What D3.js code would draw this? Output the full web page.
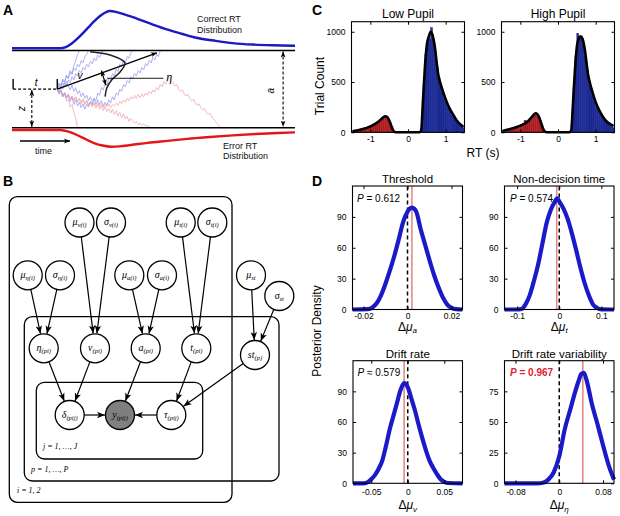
<!DOCTYPE html>
<html><head><meta charset="utf-8">
<script src="https://cdn.jsdelivr.net/npm/d3@7"></script>
<style>body{margin:0;background:#fff}svg{display:block}</style>
</head><body>
<svg id="c" width="620" height="516"></svg>
<script>
// ================= DATA =================
// Panel A : diffusion schematic (time in ms, evidence in % of boundary a)
const startTime = 160, startEvidence = 50, traceStep = 6.5;
const correctDistTime = [0,170,190,210,230,250,270,290,310,330,346,370,400,450,500,550,600,660,720,780,850,920,1000];
const correctDistDens = [0,0,0.03,0.12,0.25,0.4,0.56,0.72,0.86,0.96,1,0.97,0.9,0.77,0.63,0.5,0.39,0.27,0.2,0.14,0.1,0.08,0.07];
const errorDistTime = [0,170,200,230,260,290,320,350,380,420,480,550,620,700,780,860,940,1000];
const errorDistDens = [0,0,0.1,0.3,0.55,0.78,0.93,1,0.98,0.9,0.77,0.65,0.53,0.42,0.32,0.24,0.18,0.14];
const blueTraces = [
 [50,57,53,62,58,67,64,74,70,80,87,95,100],
 [50,58,55,63,60,68,64,72,69,77,74,82,79,87,84,92,95,100],
 [50,46,54,50,58,55,62,58,66,62,70,67,74,71,78,75,82,79,86,83,90,87,94,91,97,100],
 [50,44,48,40,45,38,42,34,39,30,36,28,33,26,31,24,30,27,34,30,38,35,45,42,52,49,58,55,64,62,70,67,76,73,82,79,87,84,92,90,97,100],
 [50,55,50,58,53,60,54,49,55,47,52,44,48,40,45,38,42,35,40,34,38,31,36,30,35,28,33,29,36,32,40,36,45,42,50,47,56,53,61,58,66,63,70,67,74,71,78,75,83,80,87,84,91,88,95,92,100]
];
const redTraces = [
 [50,45,48,40,43,34,37,27,30,20,12,0],
 [50,45,49,42,46,40,44,37,41,35,39,33,37,31,36,30,34,28,33,27,31,25,30,24,28,22,27,21,25,19,24,17,22,15,20,13,18,11,15,8,12,9,6,8,4,6,3,5,2,3,1,0],
 [50,44,47,41,45,39,43,37,41,36,40,34,38,33,37,32,36,30,34,29,33,28,32,27,31,26,30,27,31,26,30,28,32,29,34,31,36,33,38,35,40,37,42,38,43,39,44,40,45,42,47,44,49,46,52,49,56,53,60,57,63,65,61,58,54,56,50,47,49,44,41,43,38,35,37,32,29,31,26,23,25,20,17,19,14,11,8,5,2,0]
];
const driftEnd = [512, 97];
const bellTime = [276,346,399,382,352,335,329];
const bellEvid = [98.4,94.2,83.8,72.2,61.8,51.4,40.2];

// Panel B : hierarchical model
const nodeNames = ["muV","sgV","muT","sgT","muE","sgE","muA","sgA","muS","sgS","eta","v","a","t","st","del","y","tau"];
const nodeBase  = ["μ","σ","μ","σ","μ","σ","μ","σ","μ","σ","η","v","a","t","st","δ","y","τ"];
const nodeSub   = ["v(i)","v(i)","t(i)","t(i)","η(i)","η(i)","a(i)","a(i)","st","st","(pi)","(pi)","(pi)","(pi)","(p)","(pij)","(pij)","(pij)"];
const nodeCol   = [79.5,111,180.7,212.3,27.7,60,129.3,162,251,279.3,43.7,95,145.7,196.3,255,69.7,120,171.3];
const nodeRow   = [52.5,52.5,52.5,52.5,105.3,105.3,105.3,105.3,105.3,126,178.3,178.3,178.3,178.3,185,245,245,245];
const nodeObserved = ["y"];
const edges = [["muE","eta"],["sgE","eta"],["muV","v"],["sgV","v"],["muA","a"],["sgA","a"],["muT","t"],["sgT","t"],["muS","st"],["sgS","st"],["eta","del"],["v","del"],["a","y"],["t","tau"],["st","tau"],["del","y"],["tau","y"]];
const plateLabels = ["i = 1, 2","p = 1, …, P","j = 1, …, J"];

// Panel C : RT histograms (s, trial counts)
const errCenters = [-1.425,-1.375,-1.325,-1.275,-1.225,-1.175,-1.125,-1.075,-1.025,-0.975,-0.925,-0.875,-0.825,-0.775,-0.725,-0.675,-0.625,-0.575,-0.525,-0.475,-0.425,-0.375];
const corCenters = [0.325,0.375,0.425,0.475,0.525,0.575,0.625,0.675,0.725,0.775,0.825,0.875,0.925,0.975,1.025,1.075,1.125,1.175,1.225,1.275,1.325,1.375,1.425,1.475];
const lowErr  = [15,20,24,28,32,37,42,48,55,62,72,84,97,110,126,142,155,158,138,100,55,15];
const lowCor  = [5,150,480,780,900,930,1040,920,780,650,540,470,400,340,285,240,205,170,145,120,100,85,70,45];
const highErr = [18,25,30,35,40,46,52,60,66,75,85,120,100,118,140,160,172,165,150,115,65,20];
const highCor = [5,120,450,760,980,940,930,880,760,620,510,440,360,300,250,215,180,150,125,110,95,80,70,45];
const fitRT   = [-1.45,-1.3,-1.2,-1.1,-1.0,-0.9,-0.8,-0.7,-0.65,-0.6,-0.55,-0.5,-0.45,-0.4,-0.35,-0.3,0.3,0.35,0.4,0.45,0.5,0.55,0.6,0.65,0.7,0.8,0.9,1.0,1.1,1.2,1.3,1.4,1.45];
const lowFit  = [12,22,32,44,58,78,102,135,152,160,150,120,70,25,3,0,0,20,330,650,870,950,1000,970,880,580,440,330,240,175,115,75,62];
const highFit = [15,30,40,52,66,85,110,150,172,189,180,150,95,40,8,0,0,20,300,620,850,930,955,930,850,570,420,300,215,150,105,78,68];
const rtTicks = [-1,0,1], rtTickLabels = ["-1","0","1"];
const countTicks = [0,500,1000], countTickLabels = ["0","500","1000"];

// Panel D : posterior densities
const threshX = [-0.025,-0.018,-0.016,-0.014,-0.012,-0.010,-0.008,-0.006,-0.004,-0.002,0,0.001,0.002,0.003,0.004,0.006,0.008,0.010,0.012,0.014,0.016,0.018,0.020,0.022,0.025];
const threshY = [0,0.3,2,6,14,25,38,52,68,85,95,98,99,98,95,78,63,48,34,22,12,5,1.5,0.3,0];
const ndtX = [-0.13,-0.1,-0.09,-0.08,-0.07,-0.06,-0.05,-0.04,-0.03,-0.02,-0.01,-0.005,0,0.01,0.02,0.03,0.04,0.05,0.06,0.07,0.08,0.09,0.1,0.13];
const ndtY = [0,0,0.5,5,14,28,44,64,84,97,105,108,105,98,88,74,58,41,26,14,5,1.5,0.2,0];
const driftX = [-0.075,-0.06,-0.055,-0.05,-0.045,-0.04,-0.035,-0.03,-0.025,-0.02,-0.015,-0.01,-0.005,0,0.005,0.01,0.015,0.02,0.025,0.03,0.035,0.04,0.045,0.05,0.055,0.075];
const driftY = [0,0,1,4,8,14,22,36,52,65,78,91,98,94,83,71,57,44,32,22,15,9,4,1.5,0.3,0];
const varX = [-0.1,-0.04,-0.03,-0.02,-0.01,0,0.01,0.02,0.03,0.035,0.04,0.045,0.05,0.06,0.07,0.08,0.09,0.1];
const varY = [0,0,0.5,3,9,22,44,60,76,83,89,90,84,64,48,31,15,3];
const dTitles = ["Threshold","Non-decision time","Drift rate","Drift rate variability"];
const dSubs = ["a","t","v","η"];
const dP = ["0.612","0.574","0.579","0.967"];
const dPRel = ["=","=","≈","="];
const dMeans = [0.002,-0.006,-0.005,0.043];
const dXDomain = [[-0.025,0.025],[-0.13,0.13],[-0.075,0.075],[-0.1,0.1]];
const dYMax = [120,120,120,100];
const dXTicks = [[-0.02,0,0.02],[-0.1,0,0.1],[-0.05,0,0.05],[-0.08,0,0.08]];
const dXTickLabels = [["-0.02","0","0.02"],["-0.1","0","0.1"],["-0.05","0","0.05"],["-0.08","0","0.08"]];
const dYTicks = [[0,30,60,90],[0,30,60,90],[0,30,60,90],[0,25,50,75]];

// ================= DRAW =================
const SANS = 'Arial, "Liberation Sans", sans-serif';
const SERIF = '"Liberation Serif", "DejaVu Serif", serif';
const svg = d3.select("#c");
const defs = svg.append("defs");
function mk(id, len){
  defs.append("marker").attr("id",id).attr("viewBox","0 -5 10 10").attr("refX",10).attr("refY",0)
    .attr("markerWidth",len).attr("markerHeight",len).attr("markerUnits","userSpaceOnUse")
    .attr("orient","auto-start-reverse").append("path").attr("d","M0,-4L10,0L0,4L2.5,0Z").attr("fill","#000");
}
mk("arrB",8); mk("arrA",6);

function letter(x,y,t){ svg.append("text").attr("x",x).attr("y",y).attr("font-family",SANS).attr("font-weight","bold").attr("font-size",14).text(t); }
letter(3,15,"A"); letter(3,186,"B"); letter(312,15,"C"); letter(312,186,"D");

// ---------- Panel A ----------
const gA = svg.append("g");
const xA = d3.scaleLinear().domain([0,1000]).range([12,295]);
const yA = d3.scaleLinear().domain([0,100]).range([127.7,50.5]);
const yCorr = d3.scaleLinear().domain([0,1]).range([48.3,11]);
const yErr = d3.scaleLinear().domain([0,1]).range([130,146.7]);
const lineA = d3.line().curve(d3.curveLinear);
function traceLine(tr){ return tr.map((e,i)=>[xA(startTime+i*traceStep), yA(e)]); }
redTraces.forEach(tr=>gA.append("path").attr("d",lineA(traceLine(tr))).attr("fill","none").attr("stroke","#f2a6ae").attr("stroke-width",0.8));
blueTraces.forEach(tr=>gA.append("path").attr("d",lineA(traceLine(tr))).attr("fill","none").attr("stroke","#9c9cee").attr("stroke-width",0.8));
// boundaries
[0,100].forEach(b=>gA.append("line").attr("x1",xA(0)).attr("x2",xA(1000)).attr("y1",yA(b)).attr("y2",yA(b)).attr("stroke","#000").attr("stroke-width",1.6));
// RT distributions
const smooth = d3.line().curve(d3.curveMonotoneX);
gA.append("path").attr("d",smooth(correctDistTime.map((t,i)=>[xA(t),yCorr(correctDistDens[i])]))).attr("fill","none").attr("stroke","#1b1bbf").attr("stroke-width",2.4);
gA.append("path").attr("d",smooth(errorDistTime.map((t,i)=>[xA(t),yErr(errorDistDens[i])]))).attr("fill","none").attr("stroke","#e3161c").attr("stroke-width",2.4);
// start point / t
const sx = xA(startTime), sy = yA(startEvidence);
gA.append("line").attr("x1",xA(4)).attr("x2",sx).attr("y1",sy).attr("y2",sy).attr("stroke","#000").attr("stroke-width",1.2).attr("stroke-dasharray","3,2");
gA.append("line").attr("x1",xA(4)).attr("x2",xA(4)).attr("y1",sy-10).attr("y2",sy).attr("stroke","#000").attr("stroke-width",1.4);
gA.append("line").attr("x1",sx).attr("x2",sx).attr("y1",sy-10).attr("y2",sy).attr("stroke","#000").attr("stroke-width",1.4);
gA.append("text").attr("x",xA(85)).attr("y",sy-3).attr("font-family",SANS).attr("font-style","italic").attr("font-size",10).attr("text-anchor","middle").text("t");
// z arrow
gA.append("line").attr("x1",xA(70)).attr("x2",xA(70)).attr("y1",sy+1).attr("y2",yA(0)-1).attr("stroke","#000").attr("stroke-width",1.1).attr("stroke-dasharray","3,2").attr("marker-start","url(#arrA)").attr("marker-end","url(#arrA)");
gA.append("text").attr("transform",`translate(${xA(45)},${yA(25)}) rotate(-90)`).attr("font-family",SANS).attr("font-style","italic").attr("font-size",10).attr("text-anchor","middle").text("z");
// a arrow
gA.append("line").attr("x1",xA(958)).attr("x2",xA(958)).attr("y1",yA(100)+1).attr("y2",yA(0)-1).attr("stroke","#000").attr("stroke-width",1.1).attr("stroke-dasharray","3,2").attr("marker-start","url(#arrA)").attr("marker-end","url(#arrA)");
gA.append("text").attr("transform",`translate(${xA(927)},${yA(48)}) rotate(-90)`).attr("font-family",SANS).attr("font-style","italic").attr("font-size",10).attr("text-anchor","middle").text("a");
// drift arrow
gA.append("line").attr("x1",sx).attr("y1",sy).attr("x2",xA(driftEnd[0])).attr("y2",yA(driftEnd[1])).attr("stroke","#000").attr("stroke-width",1.4).attr("marker-end","url(#arrA)");
gA.append("text").attr("x",xA(240)).attr("y",yA(63)).attr("font-family",SANS).attr("font-style","italic").attr("font-size",10).attr("text-anchor","middle").text("v");
// drift variability bell
gA.append("path").attr("d",d3.line().curve(d3.curveCatmullRom)(bellTime.map((t,i)=>[xA(t),yA(bellEvid[i])]))).attr("fill","none").attr("stroke","#222").attr("stroke-width",1.5);
gA.append("line").attr("x1",xA(316)).attr("y1",yA(74)).attr("x2",xA(332)).attr("y2",yA(55)).attr("stroke","#000").attr("stroke-width",1.2).attr("marker-start","url(#arrA)").attr("marker-end","url(#arrA)");
gA.append("line").attr("x1",xA(336)).attr("y1",yA(64)).attr("x2",xA(535)).attr("y2",yA(64)).attr("stroke","#000").attr("stroke-width",0.9);
gA.append("text").attr("x",xA(545)).attr("y",yA(60)).attr("font-family",SERIF).attr("font-style","italic").attr("font-size",12).text("η");
// texts
function txtA(x,y,s){ gA.append("text").attr("x",x).attr("y",y).attr("font-family",SANS).attr("font-size",9).attr("fill","#111").text(s); }
txtA(197,22,"Correct RT"); txtA(197,33,"Distribution");
txtA(223,148.5,"Error RT"); txtA(223,159,"Distribution");
txtA(35,154,"time");
gA.append("line").attr("x1",20).attr("x2",70).attr("y1",141).attr("y2",141).attr("stroke","#000").attr("stroke-width",1.3).attr("marker-end","url(#arrA)");

// ---------- Panel B ----------
const gB = svg.append("g");
const xB = d3.scaleLinear().domain([0,300]).range([0,300]);
const yB = d3.scaleLinear().domain([0,300]).range([170,470]);
const R = 14.5;
const plates = [[9.3,26.7,232,332.3],[24.3,146.7,279,311],[36.3,212.3,202.7,289]];
plates.forEach((p,i)=>{
  gB.append("rect").attr("x",xB(p[0])).attr("y",yB(p[1])).attr("width",xB(p[2])-xB(p[0])).attr("height",yB(p[3])-yB(p[1]))
   .attr("rx",8).attr("fill","none").attr("stroke","#000").attr("stroke-width",1.3);
});
const plateLabelPos = [[17,323.3],[31,301.7],[43,279]];
plateLabels.forEach((s,i)=>gB.append("text").attr("x",xB(plateLabelPos[i][0])).attr("y",yB(plateLabelPos[i][1])).attr("font-family",SERIF).attr("font-style","italic").attr("font-size",8).text(s));
const pos = {};
nodeNames.forEach((n,i)=>pos[n]=[xB(nodeCol[i]),yB(nodeRow[i])]);
edges.forEach(([s,t])=>{
  const [x1,y1]=pos[s],[x2,y2]=pos[t];
  const dx=x2-x1,dy=y2-y1,L=Math.hypot(dx,dy),ux=dx/L,uy=dy/L;
  gB.append("line").attr("x1",x1+ux*R).attr("y1",y1+uy*R).attr("x2",x2-ux*(R+0.5)).attr("y2",y2-uy*(R+0.5))
    .attr("stroke","#000").attr("stroke-width",1.2).attr("marker-end","url(#arrB)");
});
nodeNames.forEach((n,i)=>{
  const [cx,cy]=pos[n];
  gB.append("circle").attr("cx",cx).attr("cy",cy).attr("r",R).attr("fill",nodeObserved.includes(n)?"#7f7f7f":"#fff").attr("stroke","#000").attr("stroke-width",1.3);
  const t = gB.append("text").attr("x",cx).attr("y",cy+2.5).attr("text-anchor","middle").attr("font-family",SERIF).attr("font-style","italic");
  t.append("tspan").attr("font-size",10).text(nodeBase[i]);
  t.append("tspan").attr("font-size",6.5).attr("dy",2).text(nodeSub[i]);
});

// ---------- helpers for axes ----------
function axesBox(g, x, y, xTicks, xLabels, yTicks, yLabels, xPad){
  const [xa,xb]=x.range(), [yb,ya]=y.range();
  g.append("g").attr("class","ax").attr("transform",`translate(0,${yb})`)
   .call(d3.axisBottom(x).tickValues(xTicks).tickSize(-3).tickPadding(xPad).tickFormat(d=>xLabels[xTicks.indexOf(d)]));
  g.append("g").attr("class","ax").attr("transform",`translate(0,${ya})`)
   .call(d3.axisTop(x).tickValues(xTicks).tickSize(-3).tickFormat(""));
  g.append("g").attr("class","ax").attr("transform",`translate(${xa},0)`)
   .call(d3.axisLeft(y).tickValues(yTicks).tickSize(-3).tickPadding(6).tickFormat(d=>yLabels[yTicks.indexOf(d)]));
  g.append("g").attr("class","ax").attr("transform",`translate(${xb},0)`)
   .call(d3.axisRight(y).tickValues(yTicks).tickSize(-3).tickFormat(""));
  g.selectAll(".ax .domain").remove();
  g.selectAll(".ax text").attr("font-size",8.5).attr("fill","#000").attr("font-family",SANS);
  g.selectAll(".ax line").attr("stroke","#000");
  g.append("rect").attr("x",xa).attr("y",ya).attr("width",xb-xa).attr("height",yb-ya).attr("fill","none").attr("stroke","#000").attr("stroke-width",1.1);
}
function label(g,x,y,s,size,opts={}){
  const t=g.append("text").attr("x",x).attr("y",y).attr("font-family",SANS).attr("font-size",size).attr("text-anchor",opts.anchor||"middle").text(s);
  if(opts.rot) t.attr("transform",`rotate(-90,${x},${y})`);
  return t;
}

// ---------- Panel C ----------
const gC = svg.append("g");
const cPanels = [
  {title:"Low Pupil", x0:351.5, x1:464.5, err:lowErr, cor:lowCor, fit:lowFit},
  {title:"High Pupil", x0:501.5, x1:614.5, err:highErr, cor:highCor, fit:highFit}
];
cPanels.forEach(p=>{
  const g = gC.append("g");
  const x = d3.scaleLinear().domain([-1.5,1.5]).range([p.x0,p.x1]);
  const y = d3.scaleLinear().domain([0,1100]).range([132.3,21.7]);
  const bw = 0.05;
  g.selectAll(null).data(errCenters).join("rect").attr("x",d=>x(d-bw/2)).attr("width",d=>x(d+bw/2)-x(d-bw/2))
    .attr("y",(d,i)=>y(p.err[i])).attr("height",(d,i)=>y(0)-y(p.err[i])).attr("fill","#c8252b").attr("stroke","#6e0b0e").attr("stroke-width",0.45);
  g.selectAll(null).data(corCenters).join("rect").attr("x",d=>x(d-bw/2)).attr("width",d=>x(d+bw/2)-x(d-bw/2))
    .attr("y",(d,i)=>y(p.cor[i])).attr("height",(d,i)=>y(0)-y(p.cor[i])).attr("fill","#2232a8").attr("stroke","#0b1264").attr("stroke-width",0.45);
  g.append("path").attr("d",d3.line().curve(d3.curveMonotoneX)(fitRT.map((r,i)=>[x(r),y(p.fit[i])]))).attr("fill","none").attr("stroke","#000").attr("stroke-width",2.6).attr("stroke-linejoin","round").attr("stroke-linecap","round");
  axesBox(g,x,y,rtTicks,rtTickLabels,countTicks,countTickLabels,4);
  label(g,(p.x0+p.x1)/2,18,p.title,12);
});
label(gC,483,157,"RT (s)",12);
label(gC,324,86,"Trial Count",12,{rot:true});

// ---------- Panel D ----------
const gD = svg.append("g");
const dBoxes = [[352.5,462.5,309.5,186],[504.5,614,309.5,186],[353,462.5,483.3,360.7],[504.5,614,483.3,360.7]];
const dXPad = [3.5,3.5,5.5,5.5], dXLab = [21,21,26,26];
const dCurvesX = [threshX,ndtX,driftX,varX], dCurvesY = [threshY,ndtY,driftY,varY];
dBoxes.forEach((b,k)=>{
  const g = gD.append("g");
  const x = d3.scaleLinear().domain(dXDomain[k]).range([b[0],b[1]]);
  const y = d3.scaleLinear().domain([0,dYMax[k]]).range([b[2],b[3]]);
  g.append("line").attr("x1",x(dMeans[k])).attr("x2",x(dMeans[k])).attr("y1",b[2]).attr("y2",b[3]).attr("stroke","#e48a8a").attr("stroke-width",1.6);
  g.append("line").attr("x1",x(0)).attr("x2",x(0)).attr("y1",b[2]).attr("y2",b[3]).attr("stroke","#000").attr("stroke-width",1.5).attr("stroke-dasharray","4,3");
  g.append("path").attr("d",d3.line().curve(d3.curveMonotoneX)(dCurvesX[k].map((v,i)=>[x(v),y(dCurvesY[k][i])]))).attr("fill","none").attr("stroke","#1a1ac8").attr("stroke-width",4.2).attr("stroke-linejoin","round");
  axesBox(g,x,y,dXTicks[k],dXTickLabels[k],dYTicks[k],dYTicks[k].map(String),dXPad[k]);
  label(g,(b[0]+b[1])/2,b[3]-3,dTitles[k],11.5);
  // P annotation
  const red = k===3;
  const pt = g.append("text").attr("x",b[0]+(k%2===0?4.5:5.5)).attr("y",b[3]+15.5).attr("font-family",SANS).attr("font-size",10)
     .attr("fill",red?"#e0202a":"#000").attr("font-weight",red?"bold":"normal");
  pt.append("tspan").attr("font-style","italic").text("P");
  pt.append("tspan").text(` ${dPRel[k]} ${dP[k]}`);
  // x label
  const xl = g.append("text").attr("x",(b[0]+b[1])/2).attr("y",b[2]+dXLab[k]).attr("text-anchor","middle").attr("font-family",SANS).attr("font-size",12);
  xl.append("tspan").text("Δ");
  xl.append("tspan").attr("font-style","italic").text("μ");
  xl.append("tspan").attr("font-style","italic").attr("font-size",8).attr("dy",2.5).text(dSubs[k]);
});
label(gD,321,331,"Posterior Density",12,{rot:true});
</script>
</body></html>
